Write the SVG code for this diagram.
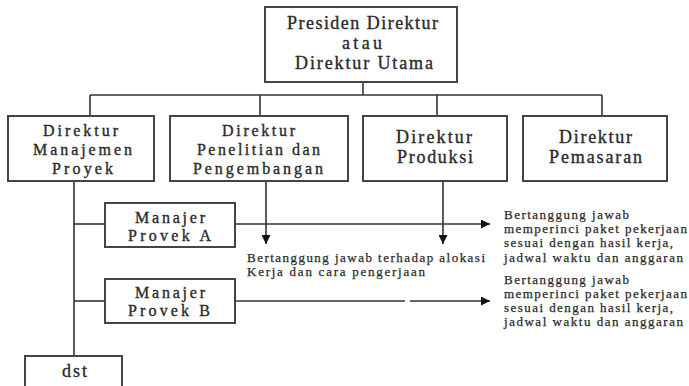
<svg xmlns="http://www.w3.org/2000/svg" width="689" height="386" viewBox="0 0 689 386">
<defs>
<marker id="ah" viewBox="0 0 10 10" refX="10" refY="5" markerWidth="9" markerHeight="9" markerUnits="userSpaceOnUse" orient="auto">
<path d="M0,0 L10,5 L0,10 Z" fill="#111"/>
</marker>
<style>
.box{fill:#fff;stroke:#444;stroke-width:2}
.ln{fill:none;stroke:#333;stroke-width:1.6}
.t{font-family:"Liberation Serif",serif;font-size:18px;fill:#2a2a2a;stroke:#2a2a2a;stroke-width:0.35}
.m{font-family:"Liberation Serif",serif;font-size:16px;fill:#2a2a2a;stroke:#2a2a2a;stroke-width:0.35}
.s{font-family:"Liberation Serif",serif;font-size:13px;fill:#2a2a2a;stroke:#2a2a2a;stroke-width:0.25}
</style>
</defs>
<rect width="689" height="386" fill="#fff"/>
<g id="connectors">
<line class="ln" x1="363" y1="82" x2="363" y2="95"/>
<line class="ln" x1="90" y1="95" x2="602" y2="95"/>
<line class="ln" x1="90" y1="95" x2="90" y2="116"/>
<line class="ln" x1="260" y1="95" x2="260" y2="116"/>
<line class="ln" x1="437" y1="95" x2="437" y2="116"/>
<line class="ln" x1="602" y1="95" x2="602" y2="116"/>
<line class="ln" x1="74" y1="181" x2="74" y2="356"/>
<line class="ln" x1="74" y1="224" x2="105" y2="224"/>
<line class="ln" x1="74" y1="301" x2="105" y2="301"/>
<line class="ln" x1="266" y1="181" x2="266" y2="244" marker-end="url(#ah)"/>
<line class="ln" x1="443" y1="181" x2="443" y2="244" marker-end="url(#ah)"/>
<line class="ln" x1="235" y1="224" x2="490" y2="224" marker-end="url(#ah)"/>
<line class="ln" x1="235" y1="301" x2="405" y2="301"/>
<line class="ln" x1="410" y1="301" x2="490" y2="301" marker-end="url(#ah)"/>
</g>
<g id="presiden">
<rect class="box" x="265" y="7" width="192" height="75"/>
<text class="t" x="287" y="29" textLength="151">Presiden Direktur</text>
<text class="t" x="342" y="49" textLength="40">atau</text>
<text class="t" x="295" y="69" textLength="138">Direktur Utama</text>
</g>
<g id="dir-manajemen">
<rect class="box" x="8" y="116" width="146" height="65"/>
<text class="m" x="43" y="136" textLength="75">Direktur</text>
<text class="m" x="33" y="155" textLength="99">Manajemen</text>
<text class="m" x="52" y="174" textLength="61">Proyek</text>
</g>
<g id="dir-penelitian">
<rect class="box" x="170" y="116" width="178" height="65"/>
<text class="m" x="222" y="136" textLength="73">Direktur</text>
<text class="m" x="197" y="155" textLength="123">Penelitian dan</text>
<text class="m" x="193" y="174" textLength="130">Pengembangan</text>
</g>
<g id="dir-produksi">
<rect class="box" x="363" y="116" width="144" height="65"/>
<text class="t" x="396" y="143" textLength="76">Direktur</text>
<text class="t" x="397" y="163" textLength="76">Produksi</text>
</g>
<g id="dir-pemasaran">
<rect class="box" x="523" y="116" width="144" height="65"/>
<text class="t" x="559" y="143" textLength="73">Direktur</text>
<text class="t" x="549" y="163" textLength="93">Pemasaran</text>
</g>
<g id="manajer-a">
<rect class="box" x="105" y="203" width="130" height="44"/>
<text class="m" x="135" y="223" textLength="70">Manajer</text>
<text class="m" x="128" y="241" textLength="83">Provek A</text>
</g>
<g id="manajer-b">
<rect class="box" x="105" y="279" width="130" height="44"/>
<text class="m" x="135" y="298" textLength="70">Manajer</text>
<text class="m" x="128" y="316" textLength="82">Provek B</text>
</g>
<g id="dst">
<rect class="box" x="25" y="356" width="97" height="40"/>
<text class="t" x="62" y="377" textLength="25">dst</text>
</g>
<g id="note-middle">
<text class="s" x="247" y="262" textLength="238">Bertanggung jawab terhadap alokasi</text>
<text class="s" x="247" y="276" textLength="178">Kerja dan cara pengerjaan</text>
</g>
<g id="note-a">
<text class="s" x="504" y="219" textLength="125">Bertanggung jawab</text>
<text class="s" x="504" y="233" textLength="183">memperinci paket pekerjaan</text>
<text class="s" x="504" y="247" textLength="169">sesuai dengan hasil kerja,</text>
<text class="s" x="504" y="262" textLength="179">jadwal waktu dan anggaran</text>
</g>
<g id="note-b">
<text class="s" x="504" y="284" textLength="125">Bertanggung jawab</text>
<text class="s" x="504" y="298" textLength="183">memperinci paket pekerjaan</text>
<text class="s" x="504" y="312" textLength="169">sesuai dengan hasil kerja,</text>
<text class="s" x="504" y="326" textLength="179">jadwal waktu dan anggaran</text>
</g>
</svg>
